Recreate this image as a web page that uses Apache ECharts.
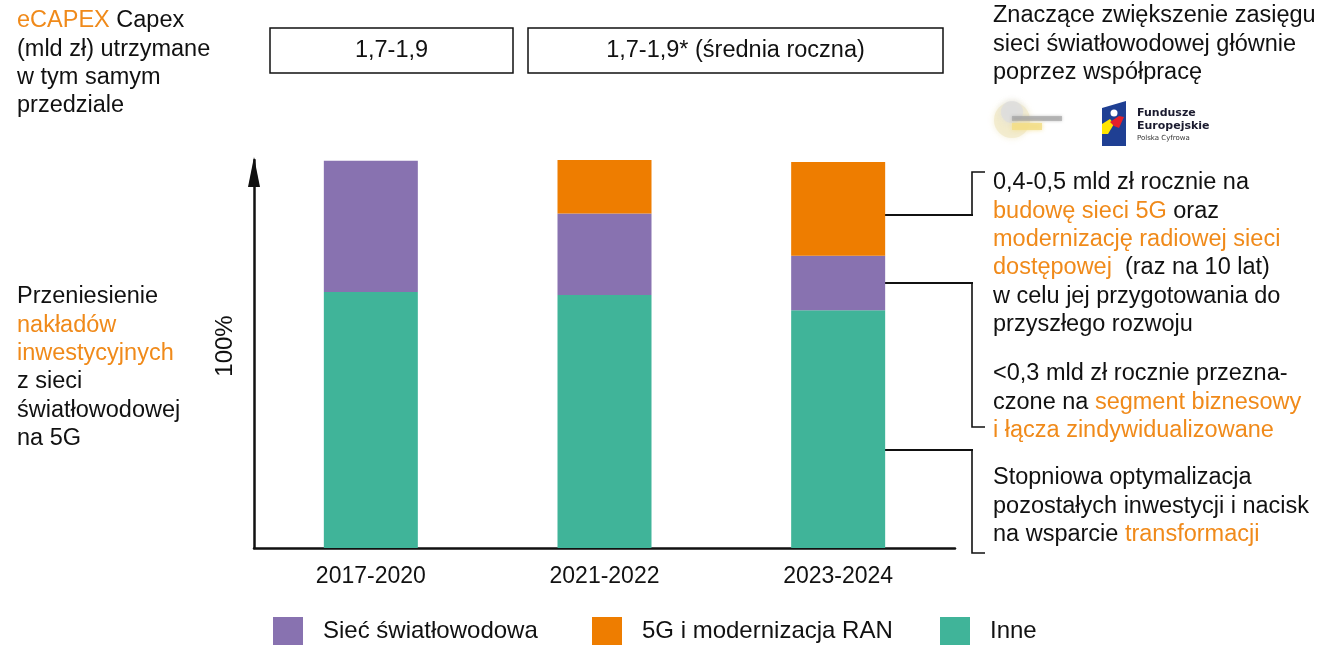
<!DOCTYPE html>
<html>
<head>
<meta charset="utf-8">
<script src="https://cdn.jsdelivr.net/npm/echarts@6/dist/echarts.min.js"></script>
<style>
  html, body { margin: 0; padding: 0; background: #fff; }
  #main { width: 1321px; height: 645px; }
</style>
</head>
<body>
<div id="main"></div>
<script>
// dane wykresu (udzial w capex, %)
var categories = ['2017-2020', '2021-2022', '2023-2024'];
var inne = [66.0, 65.2, 61.3];
var siec = [33.8, 21.0, 14.0];
var g5 = [0, 14.1, 24.2];
var seriesNames = ['Sieć światłowodowa', '5G i modernizacja RAN', 'Inne'];
var boxLabels = ['1,7-1,9', '1,7-1,9* (średnia roczna)'];

var FONT = '"Liberation Sans", Arial, sans-serif';
var FS = 23.5;
var LH = 28.3;
var ORANGE = '#F08A1A';
var TXT = '#111';

// blok tekstu wielowierszowego, {o|...} = fragment pomaranczowy
function textBlock(x, firstCenter, lines) {
  return {
    type: 'text',
    x: x,
    y: firstCenter - LH / 2,
    style: {
      text: lines.join('\n'),
      fontFamily: FONT,
      fontSize: FS,
      lineHeight: LH,
      fill: TXT,
      verticalAlign: 'top',
      align: 'left',
      rich: {
        o: { fill: ORANGE, fontFamily: FONT, fontSize: FS, lineHeight: LH }
      }
    }
  };
}

function line(x1, y1, x2, y2, w) {
  return {
    type: 'line',
    shape: { x1: x1, y1: y1, x2: x2, y2: y2 },
    style: { stroke: '#111', lineWidth: w || 2 }
  };
}

function polyline(pts, w) {
  return {
    type: 'polyline',
    shape: { points: pts },
    style: { stroke: '#111', lineWidth: w || 1.6, fill: null }
  };
}

function box(x, y, w, h, label) {
  return [{
    type: 'rect',
    shape: { x: x, y: y, width: w, height: h },
    style: { fill: '#fff', stroke: '#111', lineWidth: 1.5 }
  }, {
    type: 'text',
    x: x + w / 2,
    y: y + h / 2,
    style: {
      text: label, fontFamily: FONT, fontSize: FS, fill: TXT,
      align: 'center', verticalAlign: 'middle'
    }
  }];
}

var graphics = [];
graphics.push(textBlock(17, 21, ['{o|eCAPEX} Capex', '(mld zł) utrzymane', 'w tym samym', 'przedziale']));
graphics.push(textBlock(17, 297, ['Przeniesienie', '{o|nakładów}', '{o|inwestycyjnych}', 'z sieci', 'światłowodowej', 'na 5G']));
graphics.push(textBlock(993, 16, ['Znaczące zwiększenie zasięgu', 'sieci światłowodowej głównie', 'poprzez współpracę']));
graphics.push(textBlock(993, 183, ['0,4-0,5 mld zł rocznie na', '{o|budowę sieci 5G} oraz', '{o|modernizację radiowej sieci}',
  '{o|dostępowej}  (raz na 10 lat)', 'w celu jej przygotowania do', 'przyszłego rozwoju']));
graphics.push(textBlock(993, 374, ['<0,3 mld zł rocznie przezna-', 'czone na {o|segment biznesowy}', '{o|i łącza zindywidualizowane}']));
graphics.push(textBlock(993, 478, ['Stopniowa optymalizacja', 'pozostałych inwestycji i nacisk', 'na wsparcie {o|transformacji}']));

graphics = graphics.concat(box(270, 28, 243, 45, boxLabels[0]));
graphics = graphics.concat(box(528, 28, 415, 45, boxLabels[1]));

// 100% przy osi
graphics.push({
  type: 'text', x: 225, y: 346, rotation: Math.PI / 2,
  style: { text: '100%', fontFamily: FONT, fontSize: FS + 0.5, fill: TXT, align: 'center', verticalAlign: 'middle' }
});

// linie odniesienia i nawiasy
graphics.push(line(856, 215, 973, 215, 2));
graphics.push(line(856, 283, 973, 283, 2));
graphics.push(line(856, 450, 973, 450, 2));
graphics.push(polyline([[985, 172], [972, 172], [972, 215]]));
graphics.push(polyline([[972, 283], [972, 427], [985, 427]]));
graphics.push(polyline([[972, 450], [972, 553], [985, 553]]));

// logotypy (uproszczone)
graphics.push({ type: 'circle', shape: { cx: 1012, cy: 120, r: 18 }, style: { fill: '#F1EAC9', opacity: 0.8, shadowBlur: 6, shadowColor: '#F1EAC9' } });
graphics.push({ type: 'circle', shape: { cx: 1012, cy: 112, r: 11 }, style: { fill: '#DDDDDD', opacity: 0.8, shadowBlur: 6, shadowColor: '#DDDDDD' } });
graphics.push({ type: 'rect', shape: { x: 1012, y: 116, width: 50, height: 5 }, style: { fill: '#A0A0A0', opacity: 0.6, shadowBlur: 3, shadowColor: '#A0A0A0' } });
graphics.push({ type: 'rect', shape: { x: 1012, y: 123, width: 30, height: 7 }, style: { fill: '#F3DD86', opacity: 0.8, shadowBlur: 4, shadowColor: '#F3DD86' } });
graphics.push({ type: 'polygon', shape: { points: [[1102, 108], [1126, 101], [1126, 146], [1102, 146]] }, style: { fill: '#1F3F93' } });
graphics.push({ type: 'polygon', shape: { points: [[1102, 124], [1110, 119], [1114, 124], [1108, 134], [1102, 134]] }, style: { fill: '#FFE500' } });
graphics.push({ type: 'polygon', shape: { points: [[1110, 122], [1119, 116], [1124, 117], [1119, 128], [1114, 126]] }, style: { fill: '#E4202A' } });
graphics.push({ type: 'circle', shape: { cx: 1114, cy: 113, r: 3.5 }, style: { fill: '#fff' } });
graphics.push({
  type: 'text', x: 1137, y: 107,
  style: { text: 'Fundusze\nEuropejskie', fontFamily: '"DejaVu Sans", sans-serif', fontWeight: 'bold', fontSize: 11, lineHeight: 13, fill: '#1a1a2e', verticalAlign: 'top' }
});
graphics.push({
  type: 'text', x: 1137, y: 135,
  style: { text: 'Polska Cyfrowa', fontFamily: '"DejaVu Sans", sans-serif', fontSize: 7, fill: '#333', verticalAlign: 'top' }
});

function legendAt(left, name) {
  return {
    left: left, top: 617,
    padding: 0,
    data: [name],
    itemWidth: 30, itemHeight: 28,
    icon: 'rect',
    selectedMode: false,
    textStyle: { fontFamily: FONT, fontSize: 24, color: TXT, padding: [0, 0, 0, 15] }
  };
}

var option = {
  animation: false,
  backgroundColor: '#fff',
  grid: { left: 254, right: 366, top: 160, bottom: 97 },
  legend: [legendAt(273, seriesNames[0]), legendAt(592, seriesNames[1]), legendAt(940, seriesNames[2])],
  xAxis: {
    type: 'category',
    data: categories,
    axisLine: { lineStyle: { color: '#111', width: 2.5 } },
    axisTick: { show: false },
    axisLabel: { fontFamily: FONT, fontSize: 23, color: TXT, margin: 17 }
  },
  yAxis: {
    type: 'value',
    min: 0, max: 100,
    axisLine: {
      show: true,
      symbol: ['none', 'triangle'],
      symbolSize: [12, 30],
      symbolOffset: [0, -12],
      lineStyle: { color: '#111', width: 2.5 }
    },
    axisTick: { show: false },
    axisLabel: { show: false },
    splitLine: { show: false }
  },
  series: [
    { name: seriesNames[2], type: 'bar', stack: 'c', data: inne, barWidth: 94, itemStyle: { color: '#40B499' } },
    { name: seriesNames[0], type: 'bar', stack: 'c', data: siec, itemStyle: { color: '#8872B0' } },
    { name: seriesNames[1], type: 'bar', stack: 'c', data: g5, itemStyle: { color: '#EE7D00' } }
  ],
  graphic: graphics
};

var chart = echarts.init(document.getElementById('main'));
chart.setOption(option);
</script>
</body>
</html>
